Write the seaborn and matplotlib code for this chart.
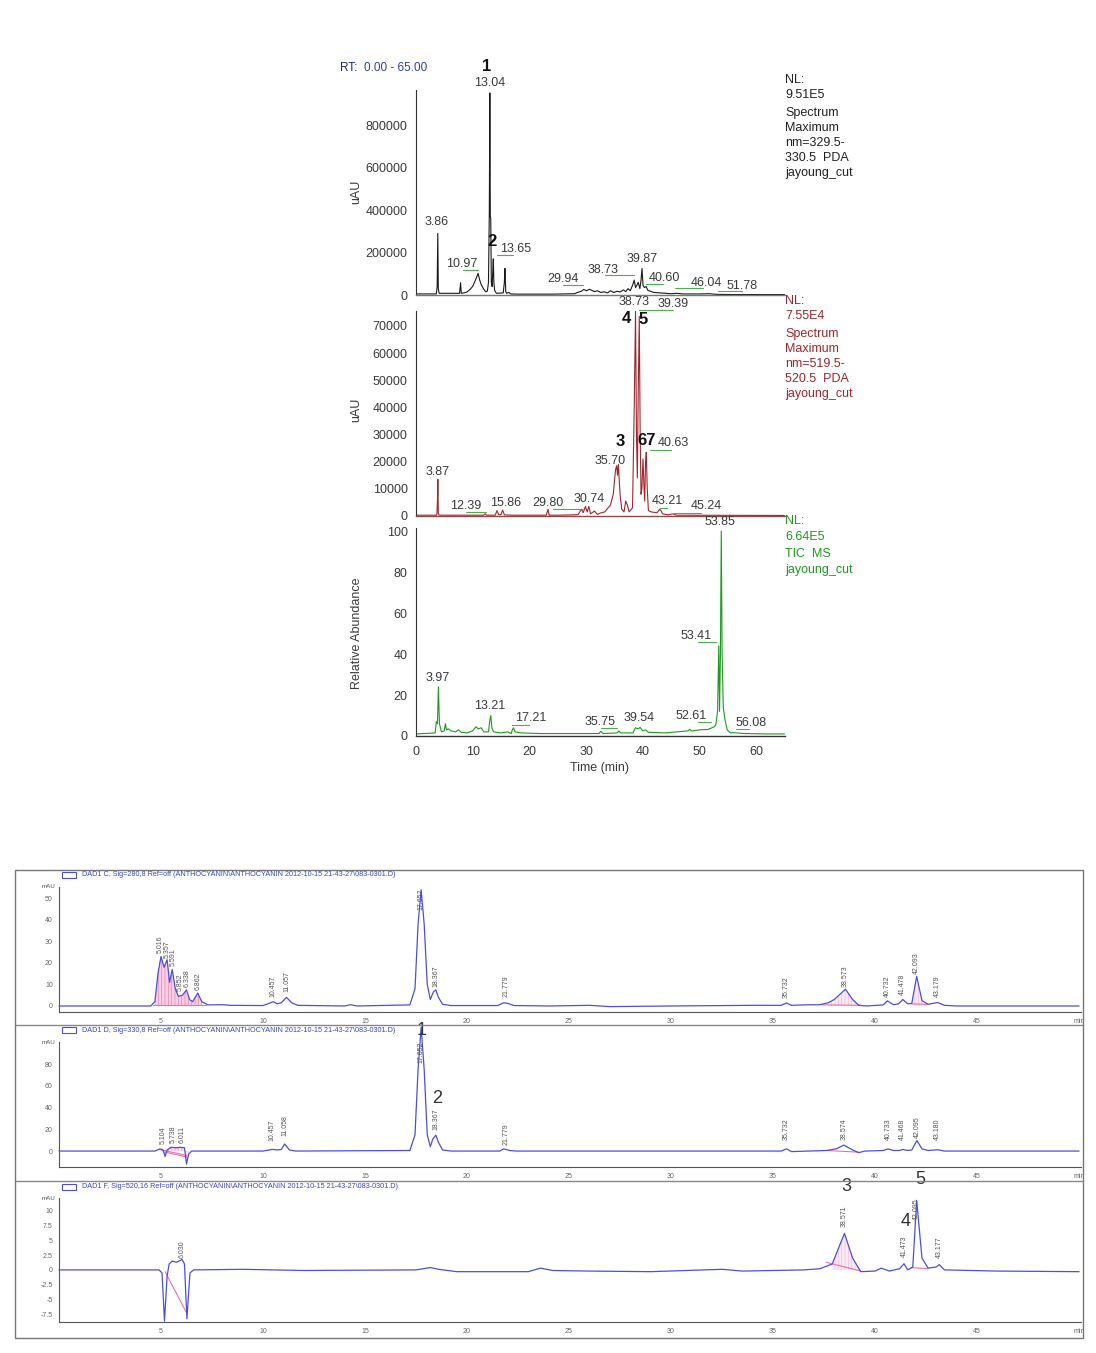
import matplotlib
matplotlib.use("Agg")
import matplotlib.pyplot as plt
from matplotlib.ticker import MultipleLocator
from matplotlib.patches import Rectangle
from matplotlib.lines import Line2D
import seaborn as sns

# ---------------- DATA ----------------
# Top: LC-PDA/MS chromatograms (time [min], signal)
PDA330 = [(0, 5000), (3.6, 5000), (3.75, 40000), (3.86, 290000), (3.95, 30000), (4.1, 8000),
          (7.7, 8000), (7.88, 58000), (8.0, 8000), (8.5, 10000), (9.0, 14000), (9.5, 25000),
          (10.0, 40000), (10.5, 70000), (10.8, 90000), (10.97, 102000), (11.2, 75000), (11.5, 50000),
          (11.9, 30000), (12.3, 15000), (12.6, 18000), (12.8, 60000), (12.95, 400000), (13.04, 951000),
          (13.12, 370000), (13.2, 360000), (13.3, 60000), (13.45, 40000), (13.55, 110000), (13.65, 170000),
          (13.75, 60000), (13.9, 20000), (14.2, 8000), (15.4, 10000), (15.6, 60000), (15.7, 125000),
          (15.85, 15000), (16.0, 8000), (16.4, 12000), (16.7, 5000), (18, 4000), (20, 4000), (24, 4000),
          (28, 6000), (28.5, 12000), (29.2, 18000), (29.6, 26000), (30.1, 20000), (30.6, 27000),
          (31.0, 22000), (31.5, 16000), (32.0, 20000), (32.6, 12000), (33.2, 15000), (33.8, 10000),
          (34.3, 20000), (34.9, 12000), (35.5, 18000), (36.0, 14000), (36.6, 24000), (37.0, 16000),
          (37.4, 30000), (37.8, 20000), (38.2, 45000), (38.5, 70000), (38.73, 35000), (38.95, 45000),
          (39.2, 60000), (39.5, 30000), (39.7, 70000), (39.87, 125000), (40.05, 45000), (40.3, 35000),
          (40.6, 40000), (40.9, 22000), (41.3, 18000), (42, 12000), (43, 10000), (44, 8000), (45, 6000),
          (46.04, 8000), (47, 5000), (50, 5000), (51.78, 6000), (53, 3000), (56, 2000), (65, 2000)]
PDA520 = [(0, 300), (3.7, 300), (3.8, 6000), (3.87, 13500), (3.95, 1000), (4.1, 300), (11.9, 300),
          (12.2, 800), (12.5, 300), (14.0, 300), (14.3, 2000), (14.6, 500), (15.0, 500), (15.3, 2200),
          (15.6, 400), (17, 300), (23.0, 300), (23.3, 2500), (23.5, 300), (25, 300), (27.5, 400),
          (28.6, 500), (29.2, 2500), (29.5, 1200), (29.9, 3500), (30.2, 1500), (30.5, 3500), (30.8, 800),
          (31.5, 1800), (32.0, 600), (32.7, 1200), (33.3, 1500), (33.8, 2800), (34.3, 4000), (34.8, 8000),
          (35.2, 17000), (35.4, 18500), (35.55, 15000), (35.7, 19000), (36.0, 8000), (36.3, 2500),
          (36.7, 1500), (37.0, 5500), (37.3, 4000), (37.6, 1500), (38.2, 3000), (38.5, 40000),
          (38.73, 75500), (38.9, 30000), (39.05, 14000), (39.2, 45000), (39.39, 73500), (39.55, 30000),
          (39.7, 8000), (39.85, 10000), (40.05, 21000), (40.2, 12000), (40.35, 5500), (40.5, 20000),
          (40.63, 23500), (40.8, 10000), (41.0, 2000), (41.5, 1500), (42.5, 1200), (43.0, 2500),
          (43.21, 2000), (43.5, 800), (44.5, 400), (45.24, 800), (46, 300), (65, 200)]
TIC = [(0, 1), (3.4, 1.5), (3.6, 7), (3.8, 6), (3.97, 24), (4.15, 6), (4.5, 2), (5.0, 2.5), (5.2, 6),
       (5.4, 3), (5.7, 3.5), (6.2, 2.5), (7.0, 2), (7.5, 3), (8.0, 1.8), (9.0, 1.5), (10.0, 2.5),
       (10.6, 4.5), (11.0, 3.5), (11.5, 4), (12.0, 2), (12.8, 2), (13.0, 7), (13.21, 10), (13.4, 4),
       (13.7, 2), (15.0, 1.5), (16.2, 2), (16.8, 1.2), (17.0, 3), (17.21, 4), (17.5, 2), (18.5, 1.5),
       (22, 1.2), (28, 1.2), (32.3, 1.2), (32.6, 2.3), (33, 1.2), (35.5, 1.5), (35.8, 2.5), (36.1, 1.5),
       (38.3, 1.5), (38.7, 4), (39.2, 3.5), (39.54, 4.2), (40, 2.5), (40.5, 3), (41, 1.8), (44, 1.5),
       (46, 2), (48, 2.5), (48.3, 3.3), (48.6, 2.4), (50, 3), (51.5, 3.2), (52.2, 4), (52.61, 4.5),
       (52.9, 5.5), (53.2, 12), (53.41, 44), (53.55, 12), (53.7, 40), (53.85, 100), (54.0, 40),
       (54.2, 14), (54.5, 8), (54.9, 3), (55.5, 1.5), (56.08, 1.6), (58, 1.2), (62, 1), (65, 1)]

# retention-time labels (text, time, value) and green leader lines (t0, t1, value)
PDA330_LABELS = [("13.04", 13.07, 1000000), ("3.86", 3.72, 343500), ("10.97", 8.13, 146000),
                 ("13.65", 17.6, 216500), ("29.94", 25.9, 75300), ("38.73", 33.0, 117600),
                 ("39.87", 39.9, 169400), ("40.60", 43.8, 80000), ("46.04", 51.2, 56500),
                 ("51.78", 57.5, 42400)]
PDA330_PEAKNO = [("1", 12.54, 1075000), ("2", 13.4, 254000)]
PDA330_LEADERS = [(8.31, 10.95, 117650), (14.3, 17.2, 188240), (25.98, 29.4, 47060),
                  (33.35, 38.46, 94120), (40.57, 43.57, 51770), (45.7, 50.6, 32940), (53.3, 57.5, 18820)]
PDA520_LABELS = [("38.73", 38.47, 78840), ("39.39", 45.4, 78250), ("35.70", 34.24, 20300),
                 ("40.63", 45.4, 27040), ("3.87", 3.83, 16210), ("12.39", 8.78, 3684),
                 ("15.86", 15.77, 4940), ("29.80", 23.33, 4940), ("30.74", 30.6, 6410),
                 ("43.21", 44.25, 5530), ("45.24", 51.2, 3570)]
PDA520_PEAKNO = [("4", 37.2, 72720), ("5", 40.1, 72460), ("3", 36.0, 27300), ("67", 40.7, 27630)]
PDA520_LEADERS = [(39.35, 45.4, 75780), (41.3, 45.0, 24200), (8.78, 12.43, 1474), (24.2, 29.4, 2726),
                  (43.05, 44.25, 3090), (45.45, 50.3, 1250)]
TIC_LABELS = [("53.85", 53.6, 104.2), ("53.41", 49.4, 48.9), ("3.97", 3.76, 28.1), ("13.21", 13.03, 14.6),
              ("17.21", 20.3, 8.6), ("35.75", 32.4, 7.0), ("39.54", 39.4, 8.9), ("52.61", 48.5, 9.76),
              ("56.08", 59.1, 6.2)]
TIC_LEADERS = [(49.7, 53.0, 45.7), (16.95, 20.0, 5.37), (32.7, 35.5, 4.05), (49.7, 52.1, 7.0),
               (56.4, 58.7, 3.27)]

TOP_INFO = [["NL:", "9.51E5", "Spectrum", "Maximum", "nm=329.5-", "330.5  PDA", "jayoung_cut"],
            ["NL:", "7.55E4", "Spectrum", "Maximum", "nm=519.5-", "520.5  PDA", "jayoung_cut"],
            ["NL:", "6.64E5", "TIC  MS", "jayoung_cut"]]

# Bottom: HPLC-DAD chromatograms (time [min], mAU)
SIG280 = [(0, 0), (4.5, 0), (4.7, 2), (4.85, 15), (5.0, 23), (5.15, 18), (5.3, 21.5), (5.42, 11),
          (5.55, 17), (5.7, 8), (5.85, 4.5), (6.05, 5), (6.25, 7.5), (6.4, 3), (6.55, 2), (6.8, 6),
          (7.0, 2), (7.3, 0.5), (8.0, 0.6), (8.4, 0.3), (10.0, 0.2), (10.3, 1.2), (10.5, 2), (10.7, 1),
          (10.9, 1.5), (11.15, 4), (11.4, 1.5), (11.7, 0.3), (14.0, 0), (14.3, 0.6), (14.6, 0),
          (17.2, 0.5), (17.45, 8), (17.6, 38), (17.75, 54), (17.9, 38), (18.05, 10), (18.2, 3),
          (18.35, 6.5), (18.47, 7.5), (18.6, 4), (18.8, 0.8), (19.2, 0.2), (21.5, 0.2), (21.8, 1.5),
          (22.0, 1.2), (22.3, 0.2), (24, 0), (26, 0.3), (27, -0.3), (30, 0), (34, 0.3), (35.4, 0.3),
          (35.66, 1.4), (35.9, 0.3), (36.5, 0.5), (37.3, 0.6), (37.7, 1.5), (38.0, 3), (38.55, 7.8),
          (38.9, 3), (39.2, 0.3), (39.6, 0), (40.4, 0.5), (40.6, 2.4), (40.9, 0.6), (41.15, 1),
          (41.36, 3), (41.6, 1), (41.8, 1.2), (42.04, 13.8), (42.3, 2.5), (42.6, 0.8), (43.07, 1.6),
          (43.4, 0.3), (44, 0), (50, 0)]
SIG330 = [(0, 0), (4.7, 0), (4.95, 2), (5.1, 1), (5.2, -5), (5.3, 1), (5.5, 3.5), (5.75, 3), (5.95, 3.5),
          (6.15, 3), (6.25, -12), (6.35, -3), (6.5, 0), (10.0, 0), (10.3, 1), (10.46, 1.5), (10.7, 1),
          (10.9, 1.5), (11.06, 6.5), (11.3, 1), (11.6, 0), (17.2, 0.5), (17.45, 15), (17.6, 75),
          (17.75, 114), (17.9, 75), (18.05, 15), (18.2, 4), (18.32, 11), (18.47, 14.7), (18.6, 8),
          (18.8, 1), (19.2, 0), (21.6, 0), (21.8, 2), (22.1, 0.5), (22.4, 0), (35.4, 0), (35.66, 2),
          (35.9, -0.5), (37.6, 0.5), (38.1, 2), (38.47, 5.5), (38.9, 1), (39.2, -1.5), (39.5, 0),
          (40.4, 0.5), (40.63, 2), (40.9, 0.5), (41.2, 0.5), (41.36, 1.5), (41.6, 0.5), (41.8, 1),
          (42.05, 9.7), (42.3, 2), (42.6, 0.5), (43.07, 1.2), (43.4, 0), (50, 0)]
SIG520 = [(0, 0), (4.9, 0), (5.05, -0.5), (5.17, -8.7), (5.3, -1), (5.4, 1.0), (5.55, 1.5), (5.75, 1.3),
          (5.95, 1.6), (6.03, 1.8), (6.15, 1.0), (6.27, -8.3), (6.42, -0.5), (6.6, 0), (9, 0.1),
          (12, -0.1), (17.5, 0), (18.2, 0.4), (18.6, 0.1), (19.5, -0.3), (23.0, -0.3), (23.6, 0.3),
          (24.2, -0.1), (26, -0.2), (29, -0.3), (32.5, 0.1), (33.5, -0.2), (36.5, 0.0), (37.3, 0.2),
          (37.9, 1.0), (38.5, 6.2), (38.9, 2), (39.3, -0.3), (40.0, -0.2), (40.3, 0.3), (40.7, -0.2),
          (41.2, 0.2), (41.42, 1.05), (41.6, 0.0), (41.85, 0.5), (42.04, 11.8), (42.3, 2), (42.6, 0.3),
          (43.0, 0.5), (43.15, 0.9), (43.4, 0), (46, -0.2), (50, -0.3)]

SIG280_LABELS = [("5.016", 4.98, 24.5), ("5.357", 5.3, 22.5), ("5.591", 5.58, 18.5), ("5.852", 5.95, 7),
                 ("6.338", 6.27, 9), ("6.862", 6.82, 7.5), ("10.457", 10.5, 4.3), ("11.057", 11.15, 6.6),
                 ("17.652", 17.75, 44.6), ("18.367", 18.47, 9), ("21.779", 21.9, 4.3), ("35.732", 35.66, 3.7),
                 ("38.573", 38.55, 9), ("40.732", 40.6, 4.3), ("41.478", 41.36, 5), ("42.093", 42.04, 15),
                 ("43.179", 43.07, 4.3)]
SIG330_LABELS = [("5.104", 5.1, 6.5), ("5.738", 5.62, 7), ("6.011", 6.05, 7), ("10.457", 10.46, 9),
                 ("11.058", 11.06, 14), ("17.652", 17.75, 81), ("18.367", 18.47, 19), ("21.779", 21.9, 5.5),
                 ("35.732", 35.66, 10), ("38.574", 38.47, 10), ("40.733", 40.63, 10), ("41.468", 41.36, 10),
                 ("42.095", 42.05, 12), ("43.180", 43.07, 10)]
SIG520_LABELS = [("6.030", 6.03, 2.1), ("38.571", 38.5, 7.2), ("41.473", 41.42, 2.2), ("42.095", 42.04, 8.5),
                 ("43.177", 43.15, 2.0)]
SIG330_PEAKNO = [("1", 17.75, 111.5), ("2", 18.55, 48.8)]
SIG520_PEAKNO = [("3", 38.6, 14.1), ("4", 41.5, 8.2), ("5", 42.2, 15.3)]

# integration baselines (pink) : ((t0, v0), (t1, v1))
SIG280_BASELINES = [((4.6, 0.3), (7.2, 0.3)), ((37.4, 0.5), (39.3, 0.3)), ((41.8, 1.0), (42.6, 0.7))]
SIG330_BASELINES = [((4.9, 1.5), (6.25, -4)), ((5.2, -1), (6.27, -5.5)), ((37.6, 0.5), (39.2, -1.0))]
SIG520_BASELINES = [((5.2, -0.3), (6.27, -7.4)), ((37.6, 1.3), (39.3, -0.2)), ((41.75, 0.4), (42.6, 0.2))]

HEADERS = ["DAD1 C, Sig=280,8 Ref=off (ANTHOCYANIN\\ANTHOCYANIN 2012-10-15 21-43-27\\083-0301.D)",
           "DAD1 D, Sig=330,8 Ref=off (ANTHOCYANIN\\ANTHOCYANIN 2012-10-15 21-43-27\\083-0301.D)",
           "DAD1 F, Sig=520,16 Ref=off (ANTHOCYANIN\\ANTHOCYANIN 2012-10-15 21-43-27\\083-0301.D)"]
HPLC_XTICKS = [5, 10, 15, 20, 25, 30, 35, 40, 45, 50]
HPLC_XTICKLABELS = ["5", "10", "15", "20", "25", "30", "35", "40", "45", "min"]

# ---------------- STYLE ----------------
sns.set_style("white")
plt.rcParams["font.family"] = ["Liberation Sans", "DejaVu Sans"]
plt.rcParams["hatch.linewidth"] = 0.5

W, H = 1096, 1353
fig = plt.figure(figsize=(W / 100, H / 100), dpi=100)


def rect(x0, y0, x1, y1):
    return [x0 / W, 1 - y1 / H, (x1 - x0) / W, (y1 - y0) / H]


def ftxt(x, y, s, **kw):
    fig.text(x / W, 1 - y / H, s, **kw)


def split(tr):
    return [p[0] for p in tr], [p[1] for p in tr]


# ---------------- TOP CHART ----------------
TXT = "#3a3a3a"
GREEN_LEAD = "#4caf50"
top_specs = [
    (PDA330, "#1a1a1a", (90, 295), 965000, [0, 200000, 400000, 600000, 800000], 50000,
     PDA330_LABELS, PDA330_PEAKNO, PDA330_LEADERS, "#777777"),
    (PDA520, "#a1262b", (311, 516), 75500, [0, 10000, 20000, 30000, 40000, 50000, 60000, 70000], 5000,
     PDA520_LABELS, PDA520_PEAKNO, PDA520_LEADERS, "#8a4a4a"),
    (TIC, "#1e9a1e", (528, 736), 101.5, [0, 20, 40, 60, 80, 100], 5,
     TIC_LABELS, [], TIC_LEADERS, "#333333"),
]
top_axes = []
for i, (tr, col, (ya, yb), ytop, yt, ymin, labs, pnos, leads, bcol) in enumerate(top_specs):
    ax = fig.add_axes(rect(415.9, ya, 784.5, yb))
    ax.patch.set_alpha(0)
    t, v = split(tr)
    sns.lineplot(x=t, y=v, ax=ax, color=col, linewidth=0.8, estimator=None, sort=False, legend=False)
    ax.set_xlim(0, 65)
    ax.set_ylim(0, ytop)
    ax.set_yticks(yt)
    ax.set_yticklabels([f"{int(x)}" for x in yt])
    ax.yaxis.set_minor_locator(MultipleLocator(ymin))
    ax.tick_params(axis="y", which="major", direction="out", length=5, width=0.8, labelsize=9,
                   labelcolor=TXT, color="#333", pad=1)
    ax.tick_params(axis="y", which="minor", direction="out", length=3, width=0.6, color="#333")
    for s in ["top", "right"]:
        ax.spines[s].set_visible(False)
    ax.spines["left"].set_color("#333")
    ax.spines["left"].set_linewidth(0.8)
    ax.spines["bottom"].set_color(bcol)
    ax.spines["bottom"].set_linewidth(1.0)
    if i < 2:
        ax.set_xticks([])
        ax.xaxis.set_minor_locator(MultipleLocator(100))
        ax.tick_params(axis="x", which="both", length=0, labelbottom=False)
    else:
        ax.set_xticks([0, 10, 20, 30, 40, 50, 60])
        ax.xaxis.set_minor_locator(MultipleLocator(2))
        ax.tick_params(axis="x", which="major", direction="out", length=6, width=0.8, labelsize=9,
                       labelcolor=TXT, color="#333", pad=1)
        ax.tick_params(axis="x", which="minor", direction="out", length=4, width=0.6, color="#333")
    ax.set_xlabel("")
    ax.set_ylabel("")
    for s, tx, vy in labs:
        ax.text(tx, vy, s, ha="center", va="center", fontsize=9, color=TXT, clip_on=False, zorder=5)
    for s, tx, vy in pnos:
        ax.text(tx, vy, s, ha="center", va="center", fontsize=12, fontweight="bold", color="#111",
                clip_on=False, zorder=6)
    for t0, t1, vy in leads:
        ax.plot([t0, t1], [vy, vy], color=GREEN_LEAD, lw=0.8, clip_on=False, zorder=4)
    top_axes.append(ax)

# info blocks at the right
info_y = [[80, 95, 113, 128, 143, 158, 173], [301, 316, 334, 349, 364, 379, 394], [521, 537, 554, 570]]
info_col = ["#222222", "#a1262b", "#1e9a1e"]
for lines, ys, c in zip(TOP_INFO, info_y, info_col):
    for s, yy in zip(lines, ys):
        ftxt(785, yy, s, fontsize=9, color=c, va="center", ha="left")

ftxt(340, 68, "RT:", fontsize=8.5, color="#1f2a5a", va="center", ha="left")
ftxt(364, 68, "0.00 - 65.00", fontsize=8.5, color="#2b3fb0", va="center", ha="left")
ftxt(356, 192, "uAU", fontsize=9, color=TXT, rotation=90, va="center", ha="center")
ftxt(356, 410, "uAU", fontsize=9, color=TXT, rotation=90, va="center", ha="center")
ftxt(357, 633, "Relative Abundance", fontsize=9, color=TXT, rotation=90, va="center", ha="center")
ftxt(599, 768, "Time (min)", fontsize=9, color=TXT, va="center", ha="center")

# ---------------- BOTTOM CHART ----------------
fig.add_artist(Rectangle((15 / W, 1 - 1338 / H), (1083 - 15) / W, (1338 - 870) / H,
                         transform=fig.transFigure, fill=False, ec="#777777", lw=1.0))
for yy in (1025, 1181):
    fig.add_artist(Line2D([15 / W, 1083 / W], [1 - yy / H, 1 - yy / H], transform=fig.transFigure,
                          color="#888888", lw=1.0))

BLUE = "#4b4fe0"
PINK = "#ee6fae"
bottom_specs = [
    (SIG280, (887, 1012), (-2.8, 55.3), [0, 10, 20, 30, 40, 50], 2, SIG280_LABELS, [], SIG280_BASELINES,
     875, [(4.7, 7.1, 0.8), (37.4, 39.3, 0.35), (41.8, 42.6, 0.35)]),
    (SIG330, (1042, 1167), (-14.7, 100.5), [0, 20, 40, 60, 80], 5, SIG330_LABELS, SIG330_PEAKNO,
     SIG330_BASELINES, 1030, [(5.1, 6.4, 0.6)]),
    (SIG520, (1198, 1322), (-8.84, 12.2), [-7.5, -5, -2.5, 0, 2.5, 5, 7.5, 10], 0.5, SIG520_LABELS,
     SIG520_PEAKNO, SIG520_BASELINES, 1187, [(37.6, 39.3, 0.35)]),
]
for k, (tr, (ya, yb), yl, yt, ymin, labs, pnos, bls, hy, fills) in enumerate(bottom_specs):
    ax = fig.add_axes(rect(59, ya, 1080.5, yb))
    ax.patch.set_alpha(0)
    t, v = split(tr)
    for (f0, f1, al) in fills:
        tt = [a for a in t if f0 <= a <= f1]
        vv = [b for a, b in zip(t, v) if f0 <= a <= f1]
        ax.fill_between(tt, vv, 0, facecolor="#f6c3dc", edgecolor=PINK, hatch="|||||", lw=0,
                        alpha=al, zorder=1)
    for (p0, p1) in bls:
        ax.plot([p0[0], p1[0]], [p0[1], p1[1]], color=PINK, lw=0.8, zorder=2)
    sns.lineplot(x=t, y=v, ax=ax, color=BLUE, linewidth=0.9, estimator=None, sort=False, legend=False,
                 zorder=3)
    ax.lines[-1].set_clip_on(False)
    ax.set_xlim(0, 50.07)
    ax.set_ylim(*yl)
    ax.set_xticks(HPLC_XTICKS)
    ax.set_xticklabels(HPLC_XTICKLABELS)
    ax.xaxis.set_minor_locator(MultipleLocator(1))
    ax.set_yticks(yt)
    ax.set_yticklabels([f"{x:g}" for x in yt])
    ax.yaxis.set_minor_locator(MultipleLocator(ymin))
    ax.tick_params(which="major", direction="out", length=3, width=0.6, color="#666", labelsize=5,
                   labelcolor="#666", pad=1.5)
    ax.tick_params(which="minor", direction="out", length=1.5, width=0.5, color="#888")
    for s in ["top", "right"]:
        ax.spines[s].set_visible(False)
    for s in ["left", "bottom"]:
        ax.spines[s].set_color("#555")
        ax.spines[s].set_linewidth(0.8)
    ax.set_xlabel("")
    ax.set_ylabel("")
    ax.text(-0.004, 1.0, "mAU", transform=ax.transAxes, ha="right", va="center", fontsize=4.5,
            color="#555")
    for s, tx, vb in labs:
        ax.text(tx, vb, s, rotation=90, ha="center", va="bottom", fontsize=5, color="#555",
                clip_on=False, zorder=5)
    for s, tx, vy in pnos:
        ax.text(tx, vy, s, ha="center", va="center", fontsize=13, color="#333", clip_on=False, zorder=6)
    # header line
    fig.add_artist(Rectangle((62 / W, 1 - (hy + 3) / H), 14 / W, 6 / H, transform=fig.transFigure,
                             fill=False, ec=BLUE, lw=0.8))
    ftxt(82, hy, HEADERS[k], fontsize=5.2, color="#3b46c8", va="center", ha="left")

fig.savefig("out.png", dpi=100)
